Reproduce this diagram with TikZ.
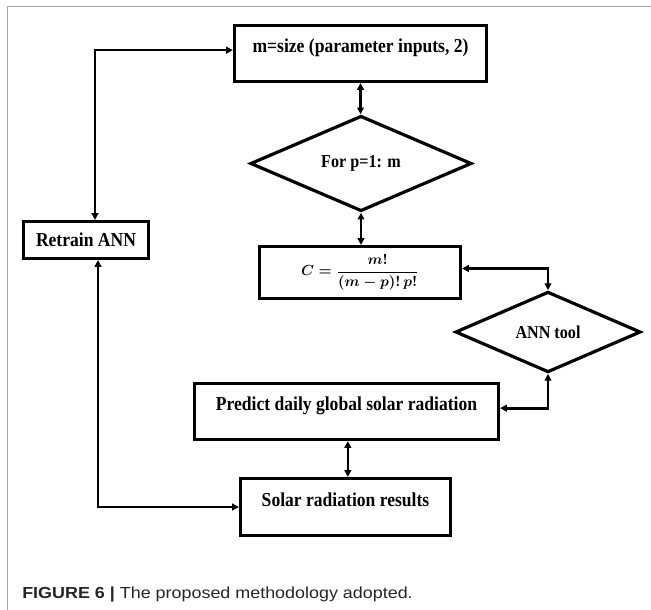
\documentclass[tikz,border=0pt]{standalone}
\usepackage{amsmath,amssymb}
\usepackage{fontspec}
\usepackage{tikz}
\usetikzlibrary{arrows.meta,positioning,calc,shapes.geometric}
\newfontfamily\boxfont[FakeStretch=0.89]{Liberation Serif}
\newfontfamily\capfont[FakeStretch=1.12]{Liberation Sans}
\newcommand{\combform}{{\fontsize{11}{13}\selectfont\boldmath
  $C=\dfrac{m!}{(m-p)!\,p!}$}}
\tikzset{box/.style={draw,line width=2.4pt,inner sep=0pt,align=center,
    font=\boxfont\bfseries\fontsize{14.8}{17}\selectfont},
  highbox/.style={box,text height=20.5pt,text depth=21.5pt},
  choice/.style={diamond,draw,line width=2.4pt,inner sep=0pt,
    font=\boxfont\bfseries\fontsize{13.6}{16}\selectfont},
  flow/.style={{Triangle[length=5pt,width=5pt]}-{Triangle[length=5pt,width=5pt]},line width=2pt}}

\begin{document}
\begin{tikzpicture}[x=0.75pt,y=-0.75pt]
\useasboundingbox (0,0) rectangle (651,610);
\draw[gray!70,line width=0.9pt] (651,6.5) -- (7.5,6.5) -- (7.5,610);
\node[highbox,minimum width=189pt,minimum height=42pt] (size) at (360.5,53.5)
 {m=size (parameter inputs, 2)};
\node[choice,minimum width=166pt,minimum height=60pt] (loop) at (361,163.5)
 {For p=1: m};
\node[box,minimum width=150.75pt,minimum height=39pt] (comb) at (360,272.5)
 {\combform};
\node[choice,minimum width=139pt,minimum height=60.5pt] (ann) at (548,332)
 {ANN tool};
\node[highbox,minimum width=228pt,minimum height=42pt] (predict) at (346.5,411.5)
 {Predict daily global solar radiation};
\node[highbox,minimum width=157.5pt,minimum height=42.75pt] (results) at (345.5,507)
 {Solar radiation results};
\node[box,minimum width=93.75pt,minimum height=27.75pt] (retrain) at (86,240)
 {Retrain ANN};
\draw[flow] (size.south) -- (size.south |- loop.north);
\draw[flow] (loop.south) -- (loop.south |- comb.north);
\draw[flow] ([yshift=3pt]comb.east) -| (ann.north);
\draw[flow] (ann.south) |- ([yshift=2.5pt]predict.east);
\draw[flow] ([xshift=1pt]predict.south) -- ([xshift=1pt]predict.south |- results.north);
\draw[flow] ([yshift=2.5pt]size.west) -| ([xshift=6.75pt]retrain.north);
\draw[flow] ([xshift=9pt]retrain.south) |- (results.west);
\node[anchor=base west,inner sep=0pt,text=black!85,
 font=\capfont\fontsize{12}{14}\selectfont] (caption) at (22,598)
 {\textbf{FIGURE 6 |} The proposed methodology adopted.};
\end{tikzpicture}
\end{document}
